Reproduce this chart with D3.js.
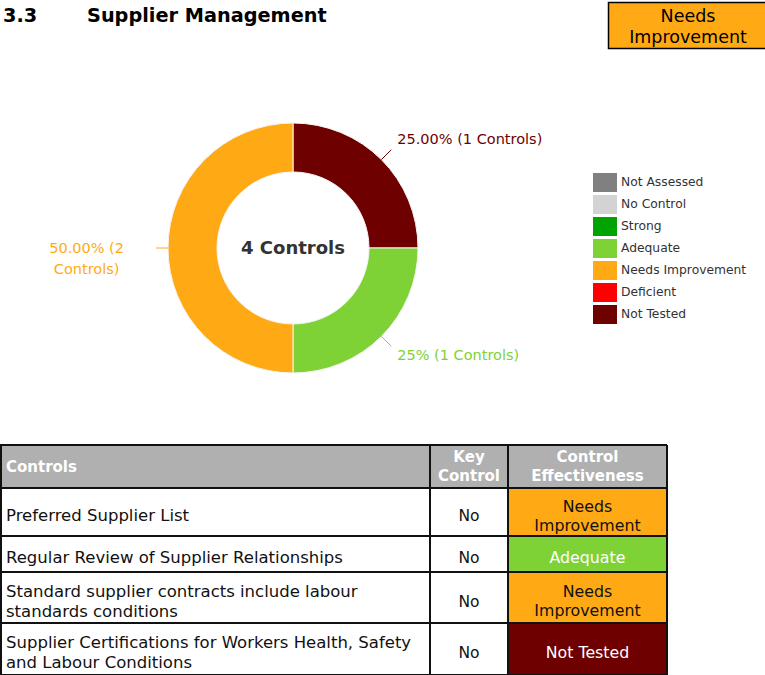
<!DOCTYPE html>
<html>
<head>
<meta charset="utf-8">
<script src="https://cdn.jsdelivr.net/npm/d3@7"></script>
<style>
  body { margin: 0; background: #fff; }
  svg text { font-family: "DejaVu Sans", Verdana, sans-serif; }
</style>
</head>
<body>
<svg id="page" width="765" height="675"></svg>
<script>
(() => {

    // chart data
    const slice_names = ['Not Tested', 'Adequate', 'Needs Improvement'];
    const slice_counts = [1, 1, 2];
    const slice_labels = ['25.00% (1 Controls)', '25% (1 Controls)', '50.00% (2 Controls)'];

    const legend_names = ['Not Assessed', 'No Control', 'Strong', 'Adequate', 'Needs Improvement', 'Deficient', 'Not Tested'];
    const legend_colors = ['#808080', '#D3D3D3', '#00A300', '#7ED236', '#FFAA15', '#FF0000', '#6E0000'];

    const table_controls = [
        ['Preferred Supplier List'],
        ['Regular Review of Supplier Relationships'],
        ['Standard supplier contracts include labour', 'standards conditions'],
        ['Supplier Certifications for Workers Health, Safety', 'and Labour Conditions']
    ];
    const table_key = ['No', 'No', 'No', 'No'];
    const table_effect = ['Needs Improvement', 'Adequate', 'Needs Improvement', 'Not Tested'];

    const overall = 'Needs Improvement';

    // colour lookup
    let colors = d3.scaleOrdinal()
        .domain(legend_names)
        .range(legend_colors);

    let svg = d3.select('#page');

    // heading
    svg.append('text')
        .attr('x', 3).attr('y', 22)
        .text('3.3')
        .style('font-size', '19.3px').style('font-weight', 'bold');
    svg.append('text')
        .attr('x', 87).attr('y', 22)
        .text('Supplier Management')
        .style('font-size', '19.3px').style('font-weight', 'bold');

    // overall badge
    svg.append('rect')
        .attr('x', 608.5).attr('y', 2.5)
        .attr('width', 158).attr('height', 46)
        .attr('fill', colors(overall))
        .attr('stroke', '#000').attr('stroke-width', 1.5);
    svg.append('text')
        .attr('x', 688).attr('y', 22)
        .attr('text-anchor', 'middle')
        .style('font-size', '17.5px')
        .text('Needs');
    svg.append('text')
        .attr('x', 688).attr('y', 43)
        .attr('text-anchor', 'middle')
        .style('font-size', '17.5px')
        .text('Improvement');

    // donut
    const cx = 293, cy = 248;
    const outer_r = 125, inner_r = 76;

    let pie = d3.pie().sort(null).value((d) => d.count);
    let slices = pie(slice_names.map((n, i) => ({ name: n, count: slice_counts[i], label: slice_labels[i] })));

    let arc = d3.arc().innerRadius(inner_r).outerRadius(outer_r);

    let donut = svg.append('g').attr('transform', `translate(${cx}, ${cy})`);

    donut.selectAll('path')
        .data(slices)
        .enter()
        .append('path')
        .attr('d', arc)
        .attr('fill', (d) => colors(d.data.name))
        .attr('stroke', '#f4f4f4')
        .attr('stroke-width', 1);

    donut.append('text')
        .attr('x', 0).attr('y', 6)
        .attr('text-anchor', 'middle')
        .style('font-size', '18px')
        .style('font-weight', 'bold')
        .style('fill', '#333')
        .text(d3.sum(slice_counts) + ' Controls');

    // slice labels with leader lines
    slices.forEach((d) => {
        let mid = (d.startAngle + d.endAngle) / 2;
        let sx = Math.sin(mid), sy = -Math.cos(mid);
        let x0 = sx * outer_r, y0 = sy * outer_r;
        let col = colors(d.data.name);

        if (sx > 0.1) {
            let x1 = sx * (outer_r + 14), y1 = sy * (outer_r + 14);
            donut.append('line')
                .attr('x1', x0).attr('y1', y0)
                .attr('x2', x1).attr('y2', y1)
                .attr('stroke', col).attr('stroke-width', 1);
            donut.append('text')
                .attr('x', x1 + 6)
                .attr('y', sy < 0 ? y1 - 6 : y1 + 14)
                .style('font-size', '14.5px')
                .style('fill', col)
                .text(d.data.label);
        } else {
            let x1 = sx * (outer_r + 12), y1 = sy * (outer_r + 12);
            donut.append('line')
                .attr('x1', x0).attr('y1', y0)
                .attr('x2', x1).attr('y2', y1)
                .attr('stroke', col).attr('stroke-width', 1);
            // wrapped label, centred, left of the ring
            let parts = d.data.label.split(' ');
            let lines = [parts.slice(0, 2).join(' '), parts.slice(2).join(' ')];
            let t = donut.append('text')
                .attr('text-anchor', 'middle')
                .style('font-size', '14.5px')
                .style('fill', col);
            lines.forEach((l, i) => {
                t.append('tspan')
                    .attr('x', 0)
                    .attr('y', y1 + 5 + i * 21)
                    .text(l);
            });
            let w = t.node().getBBox().width;
            t.selectAll('tspan').attr('x', x1 - 32 - w / 2);
        }
    });

    // legend
    let legend = svg.append('g').attr('transform', 'translate(593, 173)');
    legend.selectAll('rect')
        .data(legend_names)
        .enter()
        .append('rect')
        .attr('x', 0)
        .attr('y', (d, i) => i * 22)
        .attr('width', 24)
        .attr('height', 19)
        .attr('fill', (d) => colors(d));
    legend.selectAll('text')
        .data(legend_names)
        .enter()
        .append('text')
        .attr('x', 28)
        .attr('y', (d, i) => i * 22 + 13)
        .style('font-size', '12.3px')
        .style('fill', '#333')
        .text((d) => d);

    // table
    const col_x = [0, 430, 508, 667];
    const row_y = [445, 488, 536, 572, 623, 675];
    const header_fill = '#B0B0B0';

    let table = svg.append('g');

    table.append('rect')
        .attr('x', col_x[0]).attr('y', row_y[0])
        .attr('width', col_x[3] - col_x[0])
        .attr('height', row_y[1] - row_y[0])
        .attr('fill', header_fill);

    let hdr = (lines, x, anchor) => {
        let mid = (row_y[0] + row_y[1]) / 2;
        lines.forEach((l, i) => {
            table.append('text')
                .attr('x', x)
                .attr('y', mid + 5 + (i - (lines.length - 1) / 2) * 19)
                .attr('text-anchor', anchor)
                .style('font-size', '15px')
                .style('font-weight', 'bold')
                .style('fill', '#fff')
                .text(l);
        });
    };
    hdr(['Controls'], 6, 'start');
    hdr(['Key', 'Control'], (col_x[1] + col_x[2]) / 2, 'middle');
    hdr(['Control', 'Effectiveness'], (col_x[2] + col_x[3]) / 2, 'middle');

    table_controls.forEach((lines, r) => {
        let top = row_y[r + 1], bottom = row_y[r + 2];
        let mid = (top + bottom) / 2;

        table.append('rect')
            .attr('x', col_x[2]).attr('y', top)
            .attr('width', col_x[3] - col_x[2])
            .attr('height', bottom - top)
            .attr('fill', colors(table_effect[r]));

        lines.forEach((l, i) => {
            table.append('text')
                .attr('x', 6)
                .attr('y', mid + 9 + (i - (lines.length - 1) / 2) * 20)
                .style('font-size', '16.5px')
                .style('fill', '#111')
                .text(l);
        });

        table.append('text')
            .attr('x', (col_x[1] + col_x[2]) / 2)
            .attr('y', mid + 9)
            .attr('text-anchor', 'middle')
            .style('font-size', '15.5px')
            .style('fill', '#111')
            .text(table_key[r]);

        let eff = table_effect[r];
        let eff_lines = eff == 'Needs Improvement' ? ['Needs', 'Improvement'] : [eff];
        let dark = eff == 'Adequate' || eff == 'Not Tested';
        eff_lines.forEach((l, i) => {
            table.append('text')
                .attr('x', (col_x[2] + col_x[3]) / 2)
                .attr('y', mid + 9 + (i - (eff_lines.length - 1) / 2) * 19)
                .attr('text-anchor', 'middle')
                .style('font-size', '15.8px')
                .style('fill', dark ? '#fff' : '#111')
                .text(l);
        });
    });

    // grid lines
    row_y.forEach((y) => {
        table.append('line')
            .attr('x1', col_x[0]).attr('x2', col_x[3])
            .attr('y1', y).attr('y2', y)
            .attr('stroke', '#111').attr('stroke-width', 2);
    });
    col_x.forEach((x, i) => {
        table.append('line')
            .attr('x1', i == 0 ? x + 1 : x).attr('x2', i == 0 ? x + 1 : x)
            .attr('y1', row_y[0]).attr('y2', row_y[row_y.length - 1])
            .attr('stroke', '#111').attr('stroke-width', 2);
    });

})();
</script>
</body>
</html>
